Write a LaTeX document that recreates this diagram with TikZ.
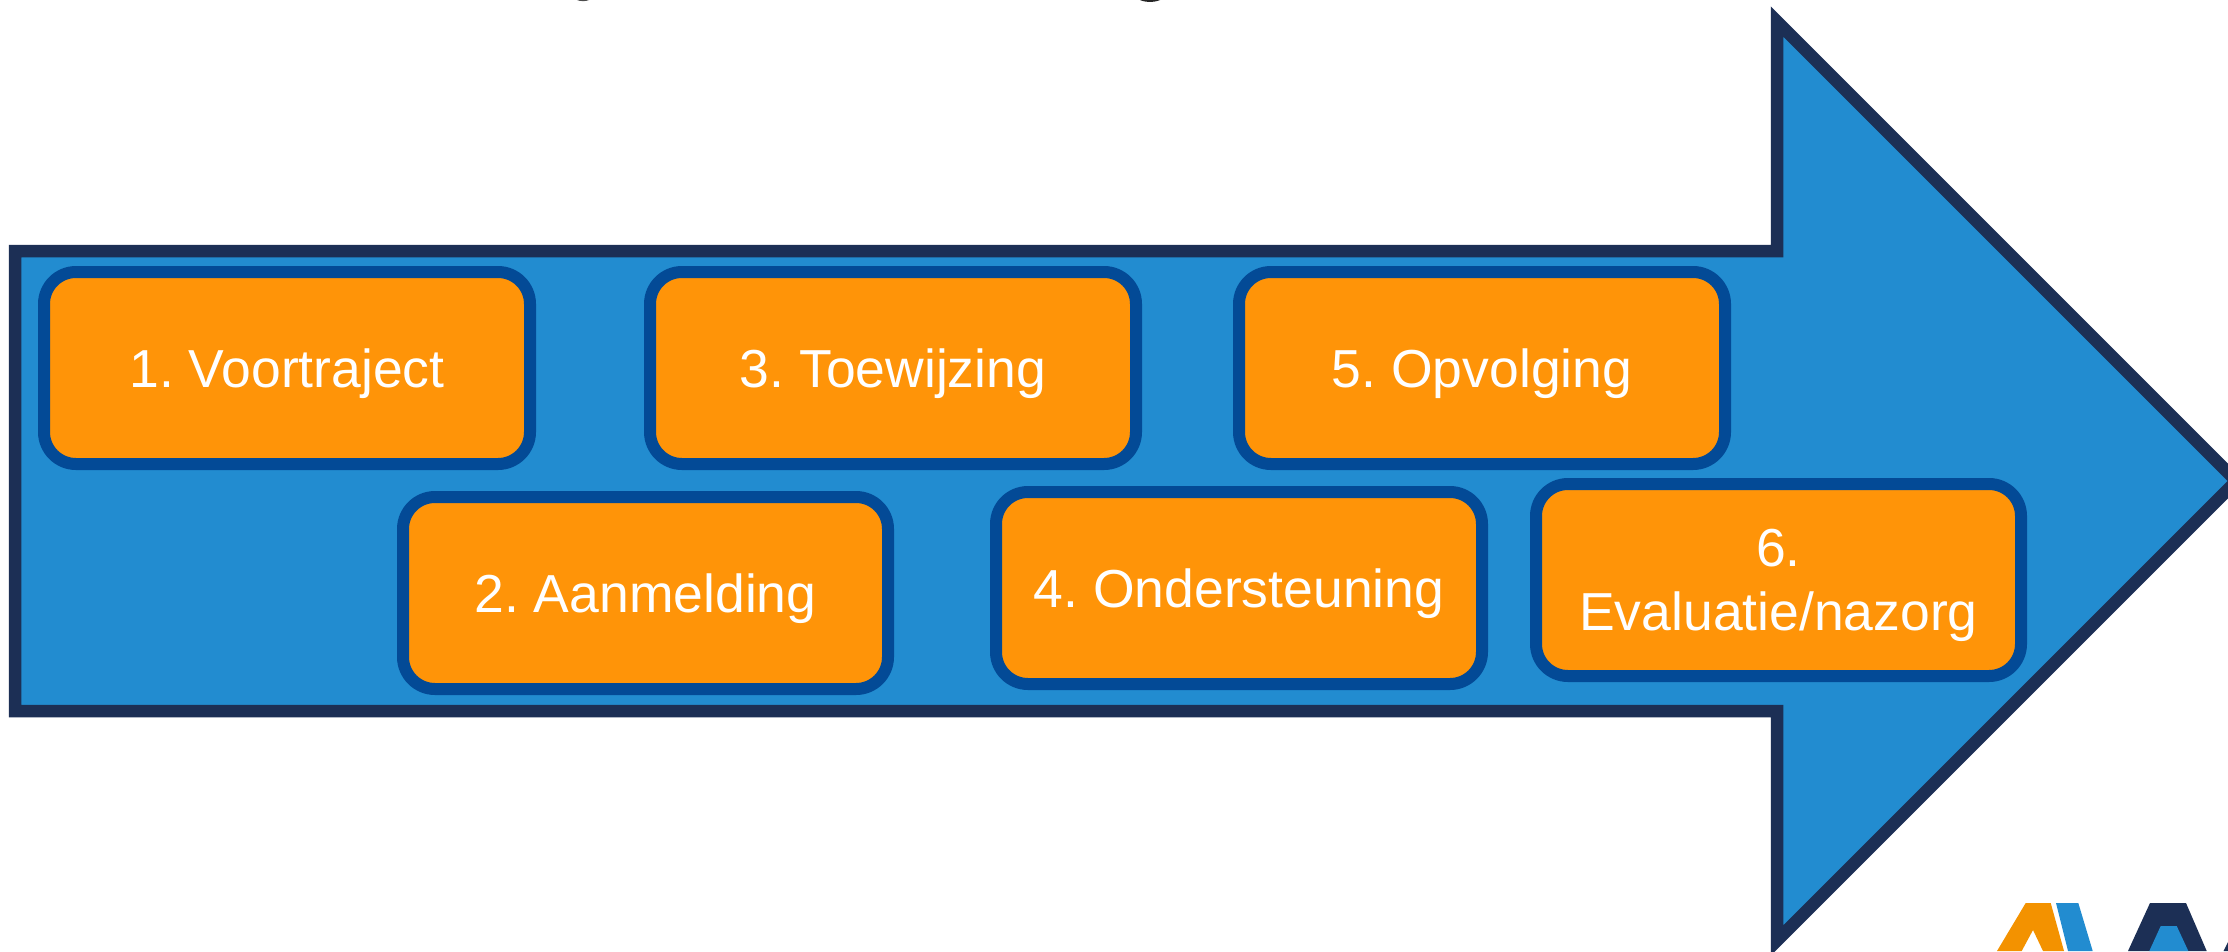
\documentclass[tikz,border=0pt]{standalone}
\usepackage{fontspec}
\setmainfont{Liberation Sans}
\definecolor{arrowfill}{HTML}{228CD0}
\definecolor{navy}{HTML}{1C2F55}
\definecolor{boxline}{HTML}{034A96}
\definecolor{boxfill}{HTML}{FF9408}
\definecolor{logoorange}{HTML}{F39200}
\tikzset{
  stage/.style={draw=boxline,line width=12pt,fill=boxfill,rounded corners=32pt,
    minimum width=486pt,minimum height=192pt,inner sep=0pt,outer sep=0pt,text=white,
    font=\fontsize{53.5}{64}\selectfont\frenchspacing,anchor=north west},
  oneline/.style={text height=38pt,text depth=0pt}
}
\begin{document}
\begin{tikzpicture}[x=1pt,y=-1pt]
\useasboundingbox (0,0) rectangle (2228,951);
\clip (0,0) rectangle (2228,951);
\fill[white] (0,0) rectangle (2228,951);
\draw[draw=navy,line width=12.5pt,fill=arrowfill,miter limit=10]
  (15,251) -- (1777,251) -- (1777,21.5) -- (2236.5,481) -- (1777,940.5) -- (1777,711) -- (15,711) -- cycle;
\node[stage,oneline] (s1) at (44,272) {1. Voortraject};
\node[stage,oneline,minimum width=485pt] (s2) at (403,497) {2. Aanmelding};
\node[stage,oneline] (s3) at (650,272) {3. Toewijzing};
\node[stage,oneline] (s4) at (996,492) {4. Ondersteuning};
\node[stage,oneline] (s5) at (1239,272) {5. Opvolging};
\node[stage,align=center,minimum width=485pt] (s6) at (1536,484) {\rule{0pt}{48pt}6.\\Evaluatie/nazorg};
\fill[logoorange] (1997,951) -- (2025.7,903) -- (2050.7,903) -- (2064,951) -- (2043,951) -- (2033,930) -- (2021.7,951) -- cycle;
\fill[arrowfill] (2056,903) -- (2078.3,903) -- (2092.7,951) -- (2068,951) -- cycle;
\fill[navy] (2128,951) -- (2150,903) -- (2186,903) -- (2206.7,951) -- cycle;
\fill[arrowfill] (2149.3,951) -- (2160.7,926) -- (2176.7,926) -- (2188.3,951) -- cycle;
\fill[navy] (2228,942) -- (2228,951) -- (2223.5,951) -- cycle;
\fill[black!85] (1140,0) .. controls (1145,2.5) and (1155,2.5) .. (1160,0) -- cycle;
\fill[black!70] (577,0) .. controls (580,1.5) and (586,1.5) .. (589,0) -- cycle;
\end{tikzpicture}
\end{document}
